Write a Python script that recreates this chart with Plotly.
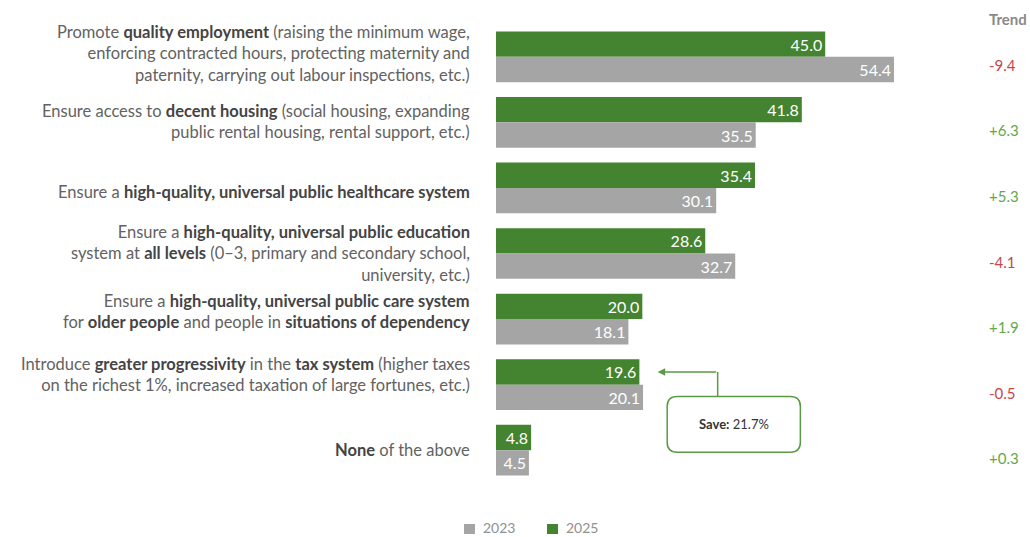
import plotly.graph_objects as go

# Policy priorities (share of respondents, %)
labels = [
    "Promote <b>quality employment</b> (raising the minimum wage,<br>enforcing contracted hours, protecting maternity and<br>paternity, carrying out labour inspections, etc.)",
    "Ensure access to <b>decent housing</b> (social housing, expanding<br>public rental housing, rental support, etc.)",
    "Ensure a <b>high-quality, universal public healthcare system</b>",
    "Ensure a <b>high-quality, universal public education</b><br>system at <b>all levels</b> (0–3, primary and secondary school,<br>university, etc.)",
    "Ensure a <b>high-quality, universal public care system</b><br>for <b>older people</b> and people in <b>situations of dependency</b>",
    "Introduce <b>greater progressivity</b> in the <b>tax system</b> (higher taxes<br>on the richest 1%, increased taxation of large fortunes, etc.)",
    "<b>None</b> of the above",
]
values_2025 = [45.0, 41.8, 35.4, 28.6, 20.0, 19.6, 4.8]
values_2023 = [54.4, 35.5, 30.1, 32.7, 18.1, 20.1, 4.5]
series_names = ["2023", "2025"]
save_label = "<b>Save:</b> 21.7%"

GREEN = "#44832f"
GREY = "#a5a5a5"
TEXT = "#626262"
BOLD = "#444444"
LINE = "#5a9a44"
FONT = "Lato"
BARGAP = 0.227

# Plot-area geometry in pixels (used to place items that sit in the margins)
W, H = 1030, 537
ML, MT, MB = 496, 24, 54
PW, PH = W - ML, H - MT - MB

# Small vertical nudges (px) for the wrapped category labels
label_shift = [3, 1, -4, 0, 8, 10, 0]


def px_x(px):
    return (px - ML) / PW


def px_y(py):
    return (H - MB - py) / PH


def darken_bold(s):
    return s.replace("<b>", f"<b><span style='color:{BOLD}'>").replace("</b>", "</span></b>")


pos = list(range(len(labels)))

fig = go.Figure()
fig.add_trace(go.Bar(
    name=series_names[1], y=pos, x=values_2025, orientation="h",
    marker=dict(color=GREEN, line=dict(width=0)),
    texttemplate="%{x:.1f}", textposition="inside", insidetextanchor="end",
    textfont=dict(color="white", size=16, family=FONT),
    hoverinfo="skip", showlegend=False,
))
fig.add_trace(go.Bar(
    name=series_names[0], y=pos, x=values_2023, orientation="h",
    marker=dict(color=GREY, line=dict(width=0)),
    texttemplate="%{x:.1f}", textposition="inside", insidetextanchor="end",
    textfont=dict(color="white", size=16, family=FONT),
    hoverinfo="skip", showlegend=False,
))

annotations = []
# Category labels to the left of the bars
for i, lab in enumerate(labels):
    annotations.append(dict(
        xref="paper", x=0, xshift=-24, yref="y", y=i, yshift=label_shift[i],
        text=darken_bold(lab), showarrow=False, xanchor="right", yanchor="middle",
        align="right", font=dict(size=16.5, color=TEXT, family=FONT),
    ))

# Trend column (2025 minus 2023)
annotations.append(dict(
    xref="paper", x=px_x(987), yref="paper", y=px_y(19), text="<b>Trend</b>",
    showarrow=False, xanchor="left", yanchor="middle",
    font=dict(size=15, color="#8a8a8a", family=FONT),
))
for i, (a, b) in enumerate(zip(values_2025, values_2023)):
    d = round(a - b, 1)
    annotations.append(dict(
        xref="paper", x=px_x(987), yref="y", y=i, yshift=-8,
        text=f"{d:+.1f}", showarrow=False, xanchor="left", yanchor="middle",
        font=dict(size=15, color="#c8444a" if d < 0 else "#64a84a", family=FONT),
    ))

# Legend drawn as swatches + labels under the bars
legend_items = [(series_names[0], GREY, 464), (series_names[1], GREEN, 547)]
shapes = []
for name, col, x0 in legend_items:
    shapes.append(dict(type="rect", xref="paper", yref="paper",
                       x0=px_x(x0), x1=px_x(x0 + 11), y0=px_y(524), y1=px_y(534),
                       fillcolor=col, line=dict(width=0)))
    annotations.append(dict(xref="paper", yref="paper", x=px_x(x0 + 18), y=px_y(527),
                            text=name, showarrow=False, xanchor="left", yanchor="middle",
                            borderpad=0,
                            font=dict(size=14, color="#909090", family=FONT)))

# Callout pointing at the 2025 tax-system bar
idx = 5
green_y = idx - (1 - BARGAP) / 4
tip_x = values_2025[idx] + 2.5
elbow_x = 30.3
bx0, bx1, by0, by1 = 23.4, 41.6, 5.18, 6.03
rx, ry = 1.37, 0.152
annotations.append(dict(
    x=tip_x, y=green_y, ax=elbow_x, ay=green_y, axref="x", ayref="y",
    xref="x", yref="y", text="", showarrow=True, arrowhead=2,
    arrowsize=1, arrowwidth=1.5, arrowcolor=LINE, standoff=0,
))
annotations.append(dict(
    x=(bx0 + bx1) / 2, y=(by0 + by1) / 2, xref="x", yref="y",
    text=save_label, showarrow=False,
    font=dict(size=13, color="#333333", family=FONT),
))

shapes += [
    dict(type="line", xref="x", yref="y", x0=elbow_x, x1=elbow_x,
         y0=by0, y1=green_y, line=dict(color=LINE, width=1.5)),
    dict(type="path", xref="x", yref="y",
         path=(f"M{bx0+rx},{by0} L{bx1-rx},{by0} Q{bx1},{by0} {bx1},{by0+ry} "
               f"L{bx1},{by1-ry} Q{bx1},{by1} {bx1-rx},{by1} "
               f"L{bx0+rx},{by1} Q{bx0},{by1} {bx0},{by1-ry} "
               f"L{bx0},{by0+ry} Q{bx0},{by0} {bx0+rx},{by0} Z"),
         line=dict(color=LINE, width=1.5), fillcolor="white"),
]

fig.update_layout(
    width=W, height=H,
    margin=dict(l=ML, r=0, t=MT, b=MB),
    paper_bgcolor="white", plot_bgcolor="white",
    barmode="group", bargap=BARGAP, bargroupgap=0,
    font=dict(family=FONT, color=TEXT),
    xaxis=dict(range=[0, PW / 7.316], visible=False, fixedrange=True),
    yaxis=dict(range=[6.5, -0.5], visible=False, fixedrange=True),
    showlegend=False,
    uniformtext=dict(mode="show", minsize=14),
    annotations=annotations,
    shapes=shapes,
)

fig.write_html("out.html")
